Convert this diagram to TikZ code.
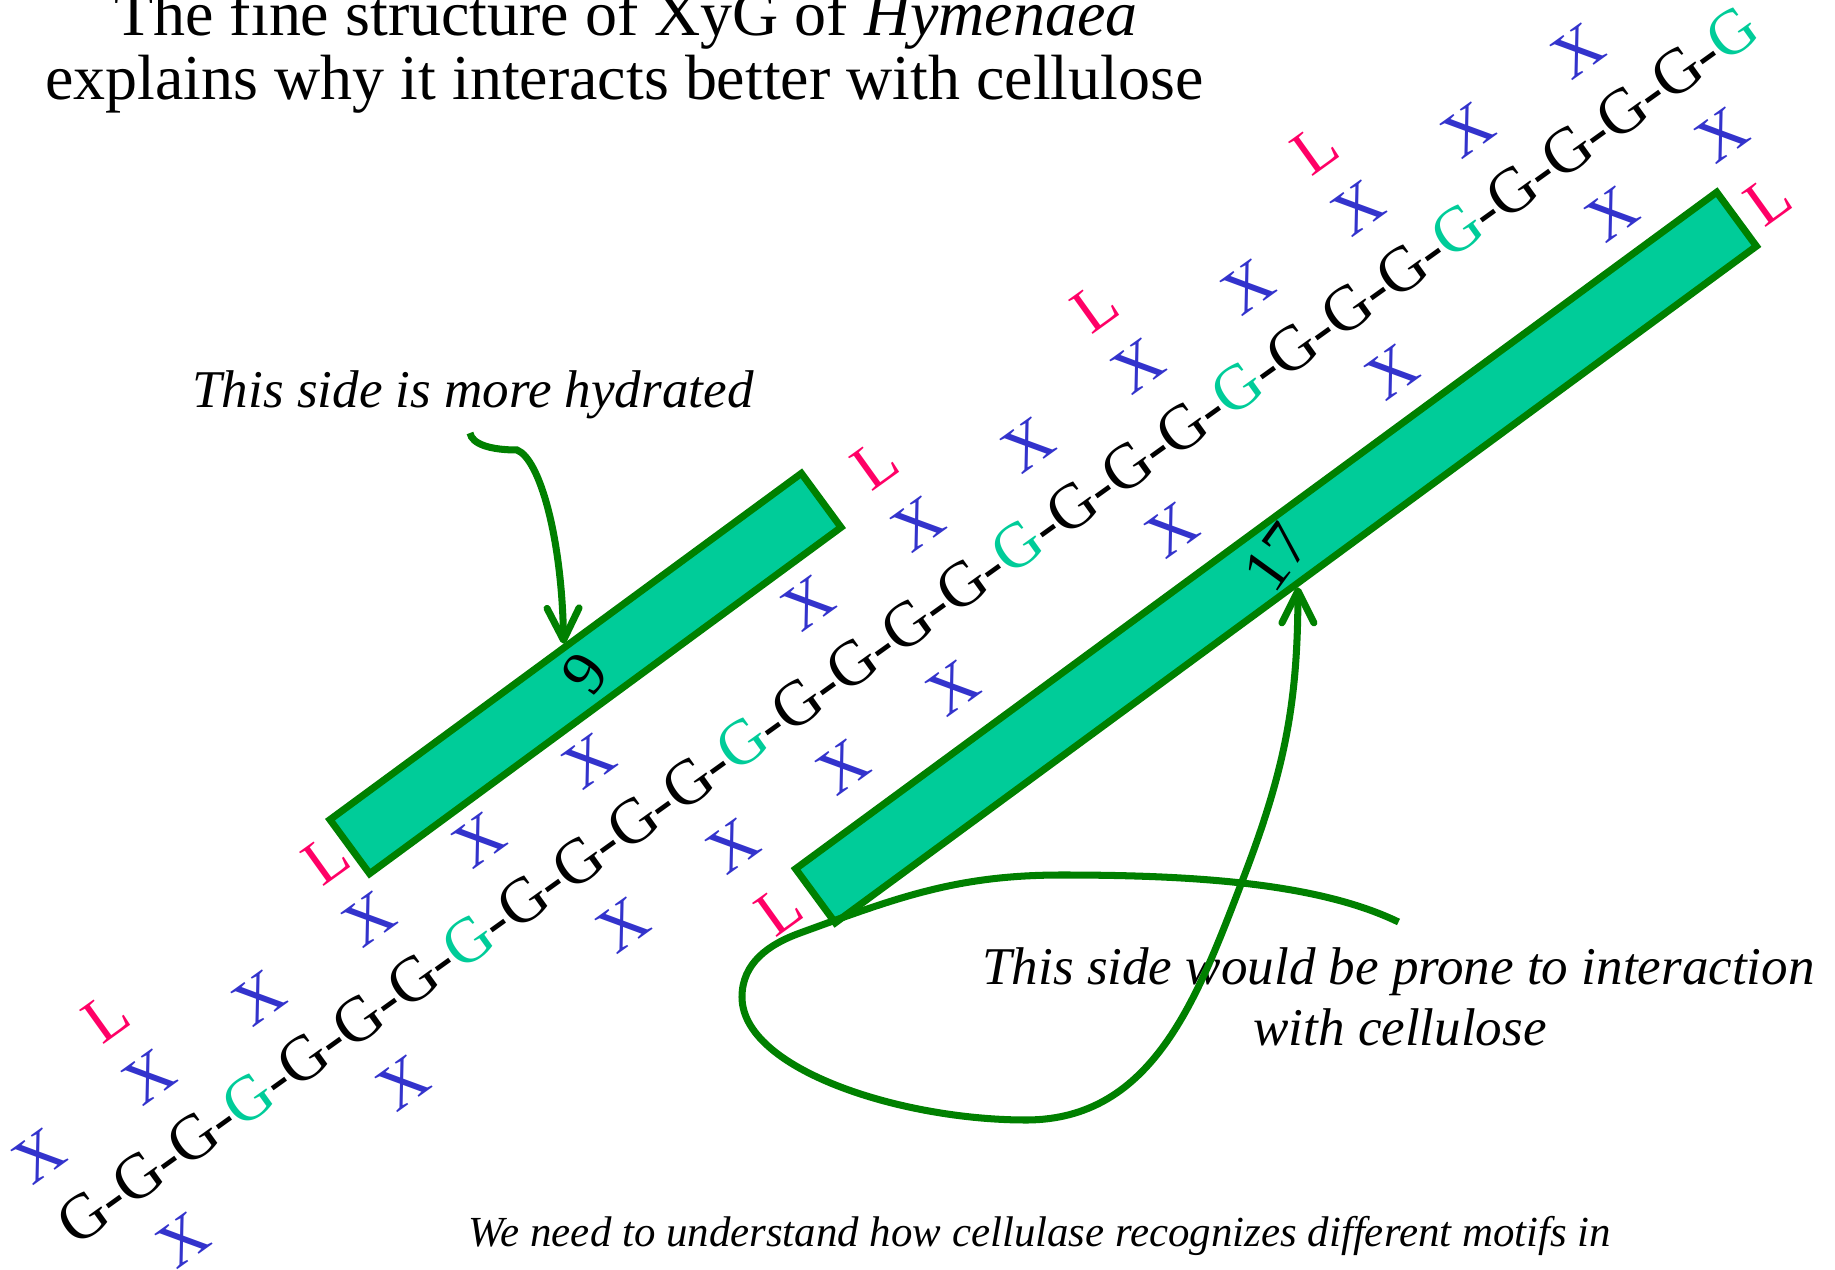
\documentclass[tikz,border=0pt]{standalone}
\usepackage{fontspec}
\setmainfont{Liberation Serif}
\usetikzlibrary{arrows.meta,positioning}

\definecolor{xylblue}{HTML}{3333CC}
\definecolor{galpink}{HTML}{FF0066}
\definecolor{glcteal}{HTML}{00CC99}
\definecolor{darkgrn}{HTML}{008000}

\newcommand{\sugarsize}{\fontsize{18.2}{21}\selectfont}
\newcommand{\notesize}{\fontsize{15.1}{18}\selectfont\itshape}
\newcommand{\gpitch}{0.6767}

\begin{document}
\begin{tikzpicture}[>={Straight Barb[length=3.2mm,width=3.2mm,round]},
    every node/.style={inner sep=0pt},
    sugar/.style={font=\sugarsize, transform shape},
    helix/.style={draw=darkgrn, line width=2pt, fill=glcteal, rotate=36.3, minimum height=6.7mm},
    note/.style={font=\notesize, anchor=base},
    pointer/.style={->, draw=darkgrn, line width=2pt}]
  \useasboundingbox (0,0) rectangle (18.35,12.69);

  \node[font=\sugarsize, anchor=base] (title1) at (6.26,12.33) {The fine structure of XyG of \textit{Hymenaea}};
  \node[font=\sugarsize, anchor=base] (title2) at (6.245,11.69) {explains why it interacts better with cellulose};

  % the two helices
  \node[helix, minimum width=58.5mm] (helix9) at (5.855,5.955) {};
  \node[helix, minimum width=114.3mm] (helix17) at (12.76,7.115) {};
  \node[font=\sugarsize, rotate=54] (n9) at (helix9.center) {9};
  \node[font=\sugarsize, rotate=54] (n17) at (helix17.center) {17};

  % backbone with side chains
  \begin{scope}[shift={(0.83,0.52)}, rotate=35.68]
    \foreach \i in {0,1,2,4,5,6,8,9,10,11,13,14,15,16,18,19,20,22,23,24,26,27,28,29}
      \node[sugar] (g\i) at (\i*\gpitch,0) {G};
    \foreach \i in {3,7,12,17,21,25,30}
      \node[sugar, text=glcteal] (g\i) at (\i*\gpitch,0) {G};
    \foreach \i in {0,...,29}
      \node[sugar, anchor=base] (d\i) at ({(\i+0.5)*\gpitch},-0.212) {-};
    \foreach \i in {0,2,4,6,8,10,14,16,18,20,22,24,26,28}
      \node[sugar, text=xylblue] (xu\i) at (\i*\gpitch,0.755) {X};
    \foreach \i in {1,5,9,11,13,15,19,23,27,29}
      \node[sugar, text=xylblue] (xd\i) at (\i*\gpitch,-0.775) {X};
    \foreach \i in {2,6,16,20,24}
      \node[sugar, text=galpink] (lu\i) at (\i*\gpitch,1.49) {L};
    \foreach \i in {11,29}
      \node[sugar, text=galpink] (ld\i) at (\i*\gpitch,-1.57) {L};
  \end{scope}

  % notes and pointers
  \node[note] (hydrated) at (4.73,8.61) {This side is more hydrated};
  \coordinate (hydrated-tail) at (4.70,8.36);
  \draw[pointer] (hydrated-tail) .. controls (4.72,8.25) and (4.90,8.19) .. (5.17,8.19)
    .. controls (5.40,8.10) and (5.62,7.30) .. (helix9.north);

  \node[note] (prone) at (13.985,2.85) {This side would be prone to interaction};
  \node[note] (prone2) at (14.0,2.24) {with cellulose};
  \coordinate (prone-tail) at (13.985,3.47);
  \draw[pointer] (prone-tail) .. controls (13.2,3.85) and (12.0,3.94) .. (10.62,3.94)
    to[out=180,in=20] (8.0,3.36) to[out=200,in=90] (7.42,2.72)
    .. controls +(0,-0.72) and +(-1.26,0) .. (10.26,1.49)
    to[out=0,in=-111] (12.43,3.9) to[out=69,in=-90] (helix17.south);

  \node[font=\fontsize{12.2}{14}\selectfont\itshape, anchor=base] (motifs) at (10.40,0.23) {We need to understand how cellulase recognizes different motifs in};
\end{tikzpicture}
\end{document}
